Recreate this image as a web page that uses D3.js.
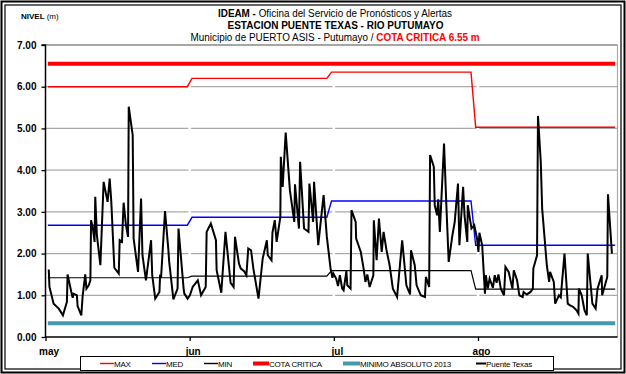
<!DOCTYPE html>
<html>
<head>
<meta charset="utf-8">
<script src="https://cdn.jsdelivr.net/npm/d3@7"></script>
<style>
  html, body { margin: 0; padding: 0; background: #fff; }
  svg { display: block; font-family: "Liberation Sans", Arial, sans-serif; }
</style>
</head>
<body>
<svg id="chart" width="626" height="374"></svg>
<script>
// Months shown on the axis and their number of days
const monthNames = ["may", "jun", "jul", "ago"];
const monthLengths = [31, 30, 31, 31];

// Monthly reference levels (m)
const maxLevel = [6.00, 6.20, 6.35, 5.03];
const medLevel = [2.68, 2.87, 3.26, 2.20];
const minLevel = [1.42, 1.46, 1.59, 1.15];
const cotaCritica = 6.55;
const minimoAbsoluto = 0.33;

// Y axis ticks
const yTicks = [0, 1, 2, 3, 4, 5, 6, 7];

// Puente Texas readings: day since 1 May, level (m)
const readingDay = [
  0.7, 0.85, 1.75, 2.85, 3.75, 4.6, 4.75, 5.55, 5.85, 6.05, 6.75, 6.9, 7.7, 8.0, 8.55, 8.8, 9.3, 9.65, 9.8, 10.2,
  10.55, 10.7, 11.05, 11.8, 12.5, 12.85, 13.35, 13.8, 14.15, 14.8, 15.75, 15.95, 16.45, 16.8, 17.3, 17.75, 17.9, 18.75, 18.95, 19.9,
  20.55, 20.85, 21.6, 22.7, 22.95, 23.6, 24.5, 24.65, 24.85, 25.7, 26.4, 26.6, 27.5, 28.4, 28.6, 29.7, 29.85, 30.55, 31.05, 31.65,
  32.75, 33.45, 34.45, 34.65, 35.55, 36.65, 36.8, 37.8, 38.7, 39.8, 40.45, 40.75, 41.6, 42.0, 42.7, 43.2, 43.6, 44.2, 44.7, 45.8,
  46.7, 47.6, 47.8, 48.6, 48.8, 49.3, 49.7, 50.5, 50.6, 51.0, 51.65, 52.55, 53.5, 53.65, 54.5, 54.75, 55.6, 56.55, 56.75, 57.55,
  57.75, 58.65, 59.8, 60.5, 61.3, 61.7, 61.9, 62.5, 62.9, 63.3, 63.8, 64.1, 64.7, 64.9, 65.6, 65.8, 66.7, 66.8, 67.8, 68.4,
  68.8, 69.2, 69.7, 70.5, 70.6, 71.2, 71.7, 72.3, 72.7, 73.3, 74.0, 74.7, 75.6, 76.7, 77.6, 78.4, 78.6, 79.4, 79.8, 80.7,
  81.6, 81.8, 82.5, 82.7, 83.5, 83.7, 84.2, 84.45, 84.8, 85.7, 86.2, 86.7, 87.5, 88.0, 88.7, 89.0, 89.8, 90.1, 90.7, 90.8,
  91.6, 92.2, 92.8, 93.1, 93.3, 93.9, 94.5, 94.7, 95.1, 95.5, 96.2, 96.6, 97.0, 97.4, 97.9, 98.6, 98.9, 99.6, 100.4, 100.7,
  101.4, 101.9, 102.6, 102.8, 103.5, 104.3, 104.8, 104.9, 105.7, 105.9, 106.5, 106.8, 107.8, 108.3, 108.5, 109.3, 109.6, 110.4, 110.8, 111.6,
  112.3, 112.8, 113.5, 114.2, 114.6, 114.7, 115.3, 115.9, 116.4, 116.6, 117.6, 118.3, 118.7, 119.6, 119.7, 120.8, 120.95, 121.8
];
const readingLevel = [
  1.62, 1.20, 0.80, 0.68, 0.52, 0.84, 1.50, 1.08, 0.94, 1.04, 1.00, 0.74, 0.52, 1.00, 1.50, 1.16, 1.24, 1.36, 2.80, 2.60,
  2.28, 3.36, 2.44, 1.72, 3.72, 3.52, 3.24, 3.80, 3.24, 1.66, 1.52, 2.32, 2.28, 3.22, 2.68, 2.40, 5.52, 4.84, 2.36, 1.56,
  3.32, 1.96, 1.36, 2.32, 1.48, 0.92, 1.08, 1.50, 1.42, 3.02, 2.12, 1.80, 0.90, 1.16, 2.60, 1.16, 1.04, 0.92, 1.00, 1.20,
  1.36, 1.00, 1.20, 2.52, 2.72, 2.32, 1.60, 1.06, 2.52, 1.30, 1.20, 2.40, 1.76, 1.64, 1.58, 1.48, 2.12, 2.08, 1.64, 0.92,
  1.88, 2.32, 1.96, 1.84, 2.50, 2.80, 2.28, 2.88, 4.32, 3.60, 4.90, 3.52, 2.76, 3.66, 2.60, 4.20, 2.60, 2.52, 3.68, 2.76,
  3.72, 2.20, 3.40, 2.40, 1.64, 1.42, 1.52, 1.40, 1.22, 1.48, 1.16, 1.12, 1.58, 1.24, 1.16, 3.04, 2.76, 2.36, 2.04, 1.64,
  1.32, 1.50, 1.20, 1.48, 2.80, 1.84, 2.84, 2.04, 2.52, 2.10, 1.72, 1.16, 0.96, 2.32, 1.24, 1.02, 2.08, 1.72, 1.24, 1.00,
  0.96, 1.44, 1.20, 4.36, 4.08, 3.16, 2.92, 3.30, 2.52, 4.64, 3.16, 1.80, 2.44, 2.76, 3.68, 2.20, 3.60, 2.92, 2.28, 3.16,
  2.60, 2.68, 2.36, 2.04, 2.50, 2.20, 1.04, 1.48, 1.16, 1.40, 1.18, 1.48, 1.30, 1.50, 1.16, 1.00, 1.68, 1.56, 1.16, 1.60,
  1.36, 1.00, 0.96, 1.08, 1.02, 1.08, 1.16, 1.64, 1.96, 5.30, 4.20, 3.08, 1.72, 1.32, 1.56, 1.32, 0.80, 1.00, 0.95, 2.00,
  0.80, 0.76, 0.72, 0.64, 0.56, 1.16, 1.00, 0.64, 0.52, 2.00, 0.80, 0.68, 1.16, 1.48, 1.00, 1.44, 3.42, 2.00
];

const svg = d3.select("#chart");
const W = 626, H = 374;
const plot = { left: 45.5, right: 617.5, top: 45, bottom: 337 };
const totalDays = d3.sum(monthLengths);

const x = d3.scaleLinear().domain([0, totalDays]).range([plot.left, plot.right]);
const y = d3.scaleLinear().domain([0, 7]).range([plot.bottom, plot.top]);

// Outer double frame
svg.append("rect").attr("x", 1.5).attr("y", 1.5).attr("width", W - 3).attr("height", H - 3)
  .attr("fill", "#fff").attr("stroke", "#000").attr("stroke-width", 2);
svg.append("rect").attr("x", 5).attr("y", 5).attr("width", W - 10).attr("height", H - 10)
  .attr("fill", "none").attr("stroke", "#000").attr("stroke-width", 1.2);

// Titles
const t1 = svg.append("text").attr("x", 335).attr("y", 17).attr("text-anchor", "middle")
  .attr("font-size", 10).attr("textLength", 234).attr("lengthAdjust", "spacingAndGlyphs");
t1.append("tspan").attr("font-weight", "bold").text("IDEAM - ");
t1.append("tspan").text("Oficina del Servicio de Pronósticos y Alertas");

svg.append("text").attr("x", 335.5).attr("y", 29).attr("text-anchor", "middle")
  .attr("font-size", 10).attr("font-weight", "bold")
  .attr("textLength", 216).attr("lengthAdjust", "spacingAndGlyphs")
  .text("ESTACION PUENTE TEXAS - RIO PUTUMAYO");

const t3 = svg.append("text").attr("x", 335).attr("y", 41).attr("text-anchor", "middle")
  .attr("font-size", 10).attr("textLength", 289).attr("lengthAdjust", "spacingAndGlyphs");
t3.append("tspan").text("Municipio de PUERTO ASIS - Putumayo / ");
t3.append("tspan").attr("font-weight", "bold").attr("fill", "#ff0000").text("COTA CRITICA 6.55 m");

const yl = svg.append("text").attr("x", 21).attr("y", 19).attr("font-size", 8);
yl.append("tspan").attr("font-weight", "bold").text("NIVEL ");
yl.append("tspan").text("(m)");

// Plot background and gridlines
svg.append("rect").attr("x", plot.left).attr("y", plot.top)
  .attr("width", plot.right - plot.left).attr("height", plot.bottom - plot.top)
  .attr("fill", "#fff");

svg.append("g").selectAll("line").data(yTicks.filter(d => d > 0)).join("line")
  .attr("x1", plot.left).attr("x2", plot.right)
  .attr("y1", d => y(d)).attr("y2", d => y(d))
  .attr("stroke", d => d === 7 ? "#888" : "#aaa").attr("stroke-width", 1.3);

const tickDays = monthNames.map((m, i) => i * 31);

// Light separators at month ticks
svg.append("g").selectAll("line").data(tickDays.slice(1)).join("line")
  .attr("x1", d => x(d)).attr("x2", d => x(d))
  .attr("y1", plot.top + 1).attr("y2", plot.bottom)
  .attr("stroke", "#fff").attr("stroke-width", 2.5);

// Right border of plot
svg.append("line").attr("x1", plot.right).attr("x2", plot.right)
  .attr("y1", plot.top).attr("y2", plot.bottom)
  .attr("stroke", "#aaa").attr("stroke-width", 1.2);

// Monthly step series
function monthlyPoints(levels) {
  const pts = [];
  let start = 0;
  levels.forEach((v, i) => {
    pts.push([start + 0.5, v], [start + monthLengths[i] - 0.5, v]);
    start += monthLengths[i];
  });
  return pts;
}
const line = d3.line().x(d => x(d[0])).y(d => y(d[1]));
const firstDay = 0.5, lastDay = totalDays - 0.5;

const series = [
  { name: "MAX", pts: monthlyPoints(maxLevel), color: "#ff0000", width: 1.4 },
  { name: "MED", pts: monthlyPoints(medLevel), color: "#0000ff", width: 1.4 },
  { name: "MIN", pts: monthlyPoints(minLevel), color: "#000000", width: 1.2 },
  { name: "COTA CRITICA", pts: [[firstDay, cotaCritica], [lastDay, cotaCritica]], color: "#ff0000", width: 4 },
  { name: "MINIMO ABSOLUTO 2013", pts: [[firstDay, minimoAbsoluto], [lastDay, minimoAbsoluto]], color: "#4499ab", width: 4 },
  { name: "Puente Texas", pts: readingDay.map((d, i) => [d, readingLevel[i]]), color: "#000000", width: 2 }
];

svg.append("g").selectAll("path").data(series).join("path")
  .attr("d", s => line(s.pts))
  .attr("fill", "none")
  .attr("stroke", s => s.color)
  .attr("stroke-width", s => s.width)
  .attr("stroke-linejoin", "miter");

// Axes
const yAxis = d3.axisLeft(y).tickValues(yTicks).tickFormat(d3.format(".2f")).tickSize(4).tickPadding(5);
const gy = svg.append("g").attr("transform", `translate(${plot.left},0)`).call(yAxis);
gy.select(".domain").attr("stroke", "#000").attr("stroke-width", 1.5).attr("d", `M-4,${plot.top}H0V${plot.bottom + 0.5}`);
gy.selectAll(".tick line").attr("stroke", "#000").attr("stroke-width", 1.3);
gy.selectAll(".tick text").attr("font-size", 10).attr("font-weight", "bold")
  .attr("font-family", "Liberation Sans, Arial, sans-serif").attr("fill", "#000");

const xAxis = d3.axisBottom(x).tickValues(tickDays).tickFormat((d, i) => monthNames[i]).tickSize(4).tickPadding(7);
const gx = svg.append("g").attr("transform", `translate(0,${plot.bottom})`).call(xAxis);
gx.select(".domain").attr("stroke", "#000").attr("stroke-width", 1.5).attr("d", `M${plot.left},0H${plot.right}`);
gx.selectAll(".tick line").attr("stroke", "#000").attr("stroke-width", 1.3);
gx.selectAll(".tick text").attr("font-size", 10).attr("font-weight", "bold")
  .attr("font-family", "Liberation Sans, Arial, sans-serif").attr("fill", "#000")
  .attr("dx", 3);

// Legend
const legend = svg.append("g");
legend.append("rect").attr("x", 80.5).attr("y", 356.5).attr("width", 473).attr("height", 14)
  .attr("fill", "#fff").attr("stroke", "#000").attr("stroke-width", 1);
const legendX = [100, 152, 204, 253, 343, 476];
const legendLen = [14, 14, 14, 16, 17, 10];
series.forEach((s, i) => {
  const g = legend.append("g");
  g.append("line").attr("x1", legendX[i]).attr("x2", legendX[i] + legendLen[i])
    .attr("y1", 363.5).attr("y2", 363.5)
    .attr("stroke", s.color).attr("stroke-width", s.width === 4 ? 4 : (s.width === 2 ? 2 : 1.4));
  g.append("text").attr("x", legendX[i] + legendLen[i]).attr("y", 366.5)
    .attr("font-size", 8).attr("letter-spacing", -0.2).text(s.name);
});
</script>
</body>
</html>
